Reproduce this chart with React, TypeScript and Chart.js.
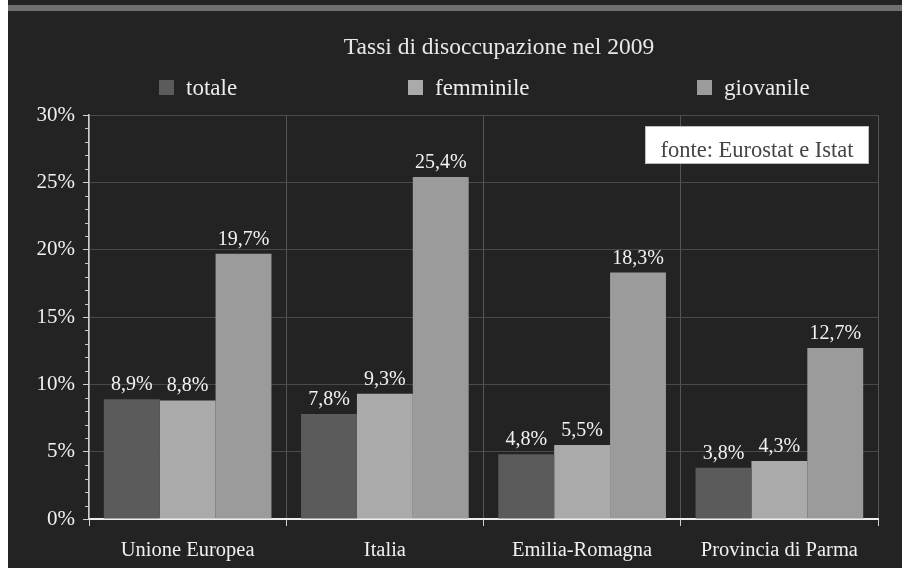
import React, { useEffect, useRef } from "react";
import { Chart, registerables } from "chart.js";

Chart.register(...registerables);

const categories = ["Unione Europea", "Italia", "Emilia-Romagna", "Provincia di Parma"];
const seriesNames = ["totale", "femminile", "giovanile"];
const totale = [8.9, 7.8, 4.8, 3.8];
const femminile = [8.8, 9.3, 5.5, 4.3];
const giovanile = [19.7, 25.4, 18.3, 12.7];
const seriesColors = ["#5b5b5b", "#aaaaaa", "#9b9b9b"];
const yTickValues = [0, 5, 10, 15, 20, 25, 30];
const titleText = "Tassi di disoccupazione nel 2009";
const sourceText = "fonte: Eurostat e Istat";

const FONT = "'Liberation Serif', 'DejaVu Serif', serif";
const fmt = (v: number) => v.toFixed(1).replace(".", ",") + "%";

const decorPlugin = {
  id: "decor",
  beforeDraw(chart: any) {
    const { ctx, width, height } = chart;
    ctx.save();
    ctx.fillStyle = "#ffffff";
    ctx.fillRect(0, 0, width, height);
    ctx.fillStyle = "#232323";
    ctx.fillRect(8, 0, width - 8, height);
    ctx.fillStyle = "#707070";
    ctx.fillRect(8, 5, width - 8, 6);
    ctx.restore();
  },
  afterDraw(chart: any) {
    const { ctx } = chart;
    const y = chart.scales.y;
    const area = chart.chartArea;
    ctx.save();
    // minor ticks
    ctx.strokeStyle = "#c8c8c8";
    ctx.lineWidth = 1;
    for (let v = 1; v < 30; v++) {
      if (v % 5 === 0) continue;
      const py = Math.round(y.getPixelForValue(v)) + 0.5;
      ctx.beginPath();
      ctx.moveTo(area.left - 4, py);
      ctx.lineTo(area.left, py);
      ctx.stroke();
    }
    // data labels
    ctx.fillStyle = "#f2f2f2";
    ctx.font = `20px ${FONT}`;
    ctx.textAlign = "center";
    ctx.textBaseline = "alphabetic";
    chart.data.datasets.forEach((ds: any, di: number) => {
      const meta = chart.getDatasetMeta(di);
      meta.data.forEach((bar: any, i: number) => {
        ctx.fillText(fmt(ds.data[i]), bar.x, bar.y - 9);
      });
    });
    // title
    ctx.font = `23.5px ${FONT}`;
    ctx.fillStyle = "#e8e8e8";
    ctx.fillText(titleText, 499, 54);
    // legend
    const boxX = [159, 408, 697];
    ctx.textAlign = "left";
    ctx.font = `23px ${FONT}`;
    seriesNames.forEach((name, i) => {
      ctx.fillStyle = seriesColors[i];
      ctx.fillRect(boxX[i], 80, 15, 15);
      ctx.fillStyle = "#ececec";
      ctx.fillText(name, boxX[i] + 27, 95);
    });
    // source box
    ctx.fillStyle = "#ffffff";
    ctx.fillRect(645, 126, 224, 38);
    ctx.strokeStyle = "#bdbdbd";
    ctx.strokeRect(645.5, 126.5, 223, 37);
    ctx.fillStyle = "#444444";
    ctx.font = `22.5px ${FONT}`;
    ctx.textAlign = "center";
    ctx.fillText(sourceText, 757, 157);
    ctx.restore();
  },
};

export default function App() {
  const ref = useRef<HTMLCanvasElement | null>(null);
  useEffect(() => {
    if (!ref.current) return;
    const chart = new Chart(ref.current, {
      type: "bar",
      data: {
        labels: categories,
        datasets: [
          { label: seriesNames[0], data: totale, backgroundColor: seriesColors[0] },
          { label: seriesNames[1], data: femminile, backgroundColor: seriesColors[1] },
          { label: seriesNames[2], data: giovanile, backgroundColor: seriesColors[2] },
        ],
      },
      options: {
        responsive: false,
        animation: false,
        layout: { padding: { top: 115, right: 24, left: 0, bottom: 0 } },
        datasets: { bar: { categoryPercentage: 0.85, barPercentage: 1.0, borderWidth: 0 } },
        plugins: { legend: { display: false }, title: { display: false }, tooltip: { enabled: false } },
        scales: {
          x: {
            afterFit: (s: any) => { s.height = 49; },
            grid: { offset: true, color: "#555555", tickColor: "#cfcfcf", tickLength: 7, lineWidth: 1 },
            border: { display: true, color: "#eeeeee", width: 2 },
            ticks: { color: "#f0f0f0", font: { family: FONT, size: 20.5 }, padding: 12 },
          },
          y: {
            min: 0,
            max: 30,
            afterFit: (s: any) => { s.width = 89; },
            afterBuildTicks: (s: any) => { s.ticks = yTickValues.map((v) => ({ value: v })); },
            grid: { color: "#4a4a4a", tickColor: "#cfcfcf", tickLength: 6, lineWidth: 1 },
            border: { display: true, color: "#cfcfcf", width: 1.5 },
            ticks: {
              color: "#f0f0f0",
              font: { family: FONT, size: 21 },
              padding: 8,
              callback: (v: any) => v + "%",
            },
          },
        },
      },
      plugins: [decorPlugin],
    });
    return () => chart.destroy();
  }, []);
  return (
    <div style={{ position: "absolute", left: 0, top: 0, width: 902, height: 568 }}>
      <canvas ref={ref} width={902} height={568} style={{ display: "block", width: 902, height: 568 }} />
    </div>
  );
}
